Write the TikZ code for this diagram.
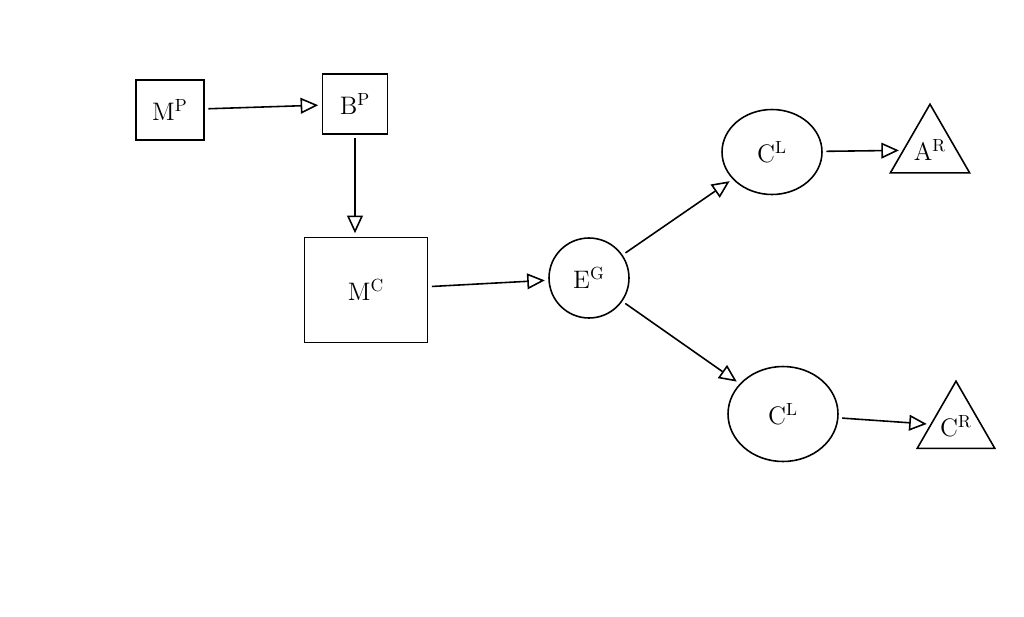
\documentclass[tikz,border=0pt]{standalone}
\usetikzlibrary{shapes.geometric,arrows.meta}
\begin{document}
\begin{tikzpicture}[x=0.02cm,y=-0.02cm,
  every node/.style={draw,line width=0.9pt,font=\Large,inner sep=0pt},
  box/.style={rectangle},
  circ/.style={ellipse},
  tri/.style={regular polygon,regular polygon sides=3,minimum size=1.75cm},
  arr/.style={-{Triangle[open,length=10pt,width=9pt]},line width=0.9pt,shorten >=2pt,shorten <=2pt}]
\path[use as bounding box] (0,0) rectangle (1024,616);
\fill[white] (0,0) rectangle (1024,616);
\node[box,minimum width=1.36cm,minimum height=1.2cm] (mp) at (170,110) {$\mathrm{M}^{\mathrm{P}}$};
\node[box,minimum width=1.3cm,minimum height=1.2cm] (bp) at (355,104) {$\mathrm{B}^{\mathrm{P}}$};
\node[box,minimum width=2.46cm,minimum height=2.1cm] (mc) at (366,290) {$\mathrm{M}^{\mathrm{C}}$};
\node[circle,minimum size=1.6cm] (eg) at (589,278) {$\mathrm{E}^{\mathrm{G}}$};
\node[circ,minimum width=2cm,minimum height=1.7cm] (cl1) at (772,152) {$\mathrm{C}^{\mathrm{L}}$};
\node[circ,minimum width=2.2cm,minimum height=1.9cm] (cl2) at (783,414) {$\mathrm{C}^{\mathrm{L}}$};
\node[tri] (ar) at (930,150) {$\mathrm{A}^{\mathrm{R}}$};
\node[tri] (cr) at (956,426) {$\mathrm{C}^{\mathrm{R}}$};
\draw[arr] (mp) -- (bp);
\draw[arr] (bp.south) -- (bp.south |- mc.north);
\draw[arr] (mc) -- (eg);
\draw[arr] (eg) -- (cl1);
\draw[arr] (eg) -- (cl2);
\draw[arr] (cl1) -- (ar);
\draw[arr] (cl2) -- (cr);
\end{tikzpicture}
\end{document}
